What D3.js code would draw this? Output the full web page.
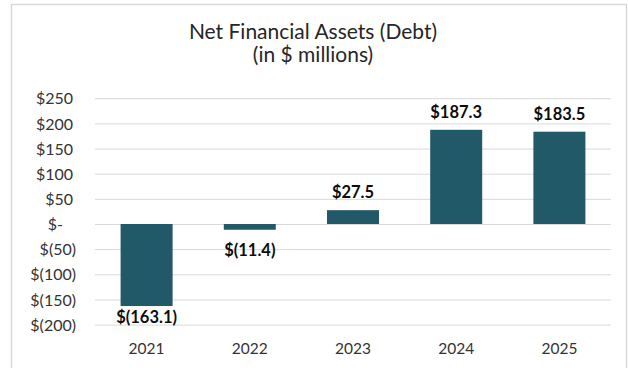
<!DOCTYPE html>
<html>
<head>
<meta charset="utf-8">
<script src="https://cdn.jsdelivr.net/npm/d3@7"></script>
<style>
  html, body { margin: 0; padding: 0; background: #fff; }
  svg { display: block; font-family: Lato, "Open Sans", sans-serif; }
</style>
</head>
<body>
<svg id="chart" width="628" height="368"></svg>
<script>
// Net financial assets (debt), $ millions, by year
const years = ["2021", "2022", "2023", "2024", "2025"];
const values = [-163.1, -11.4, 27.5, 187.3, 183.5];
const yTicks = [250, 200, 150, 100, 50, 0, -50, -100, -150, -200];
const titleLines = ["Net Financial Assets (Debt)", "(in $ millions)"];

const svg = d3.select("#chart");
const plot = { left: 95, right: 611, top: 98.25, bottom: 324.6 };

// chart frame
svg.append("rect")
  .attr("x", 11.5).attr("y", 4.5)
  .attr("width", 615).attr("height", 380)
  .attr("fill", "#fff")
  .attr("stroke", "#d9d9d9").attr("stroke-width", 1.5);

const x = d3.scaleBand()
  .domain(years)
  .range([plot.left, plot.right])
  .paddingInner(0.496)
  .paddingOuter(0.248);

const y = d3.scaleLinear()
  .domain([-200, 250])
  .range([plot.bottom, plot.top]);

// accounting-style dollar format
const fmtTick = v => v === 0 ? "$-" : (v < 0 ? `$(${Math.abs(v)})` : `$${v}`);
const fmtVal = v => v < 0 ? `$(${Math.abs(v).toFixed(1)})` : `$${v.toFixed(1)}`;

// title
svg.append("g").selectAll("text")
  .data(titleLines)
  .join("text")
  .attr("x", 313)
  .attr("y", (d, i) => 39 + i * 23)
  .attr("text-anchor", "middle")
  .attr("font-size", 21)
  .attr("fill", "#262626")
  .text(d => d);

// y axis with gridlines
const yAxis = d3.axisLeft(y)
  .tickValues(yTicks)
  .tickSize(-(plot.right - plot.left))
  .tickPadding(0)
  .tickFormat(fmtTick);

const gy = svg.append("g")
  .attr("transform", `translate(${plot.left},0)`)
  .call(yAxis);
gy.select(".domain").remove();
gy.selectAll(".tick line").attr("stroke", "#d9d9d9").attr("stroke-width", 1);
gy.selectAll(".tick text")
  .attr("font-size", 16)
  .attr("fill", "#333")
  .attr("font-family", "Lato, sans-serif")
  .attr("x", d => d < 0 ? -19 : (d === 0 ? -32 : -22))
  .attr("dy", "0.35em");

// bars
svg.append("g").selectAll("rect")
  .data(values)
  .join("rect")
  .attr("x", (d, i) => x(years[i]))
  .attr("width", x.bandwidth())
  .attr("y", d => y(Math.max(0, d)))
  .attr("height", d => Math.abs(y(d) - y(0)))
  .attr("fill", "#215968");

// value labels
svg.append("g").selectAll("text")
  .data(values)
  .join("text")
  .attr("x", (d, i) => x(years[i]) + x.bandwidth() / 2)
  .attr("y", d => d >= 0 ? y(d) - 12 : Math.min(y(d) + 26, 323))
  .attr("text-anchor", "middle")
  .attr("font-size", 16.5)
  .attr("font-weight", "bold")
  .attr("fill", "#0d0d0d")
  .text(d => fmtVal(d));

// x axis labels
const xAxis = d3.axisBottom(x).tickSize(0).tickPadding(0);
const gx = svg.append("g")
  .attr("transform", `translate(0,${plot.bottom})`)
  .call(xAxis);
gx.select(".domain").remove();
gx.selectAll(".tick text")
  .attr("font-size", 15.5)
  .attr("fill", "#333")
  .attr("font-family", "Lato, sans-serif")
  .attr("dy", 0)
  .attr("y", 29);
</script>
</body>
</html>
